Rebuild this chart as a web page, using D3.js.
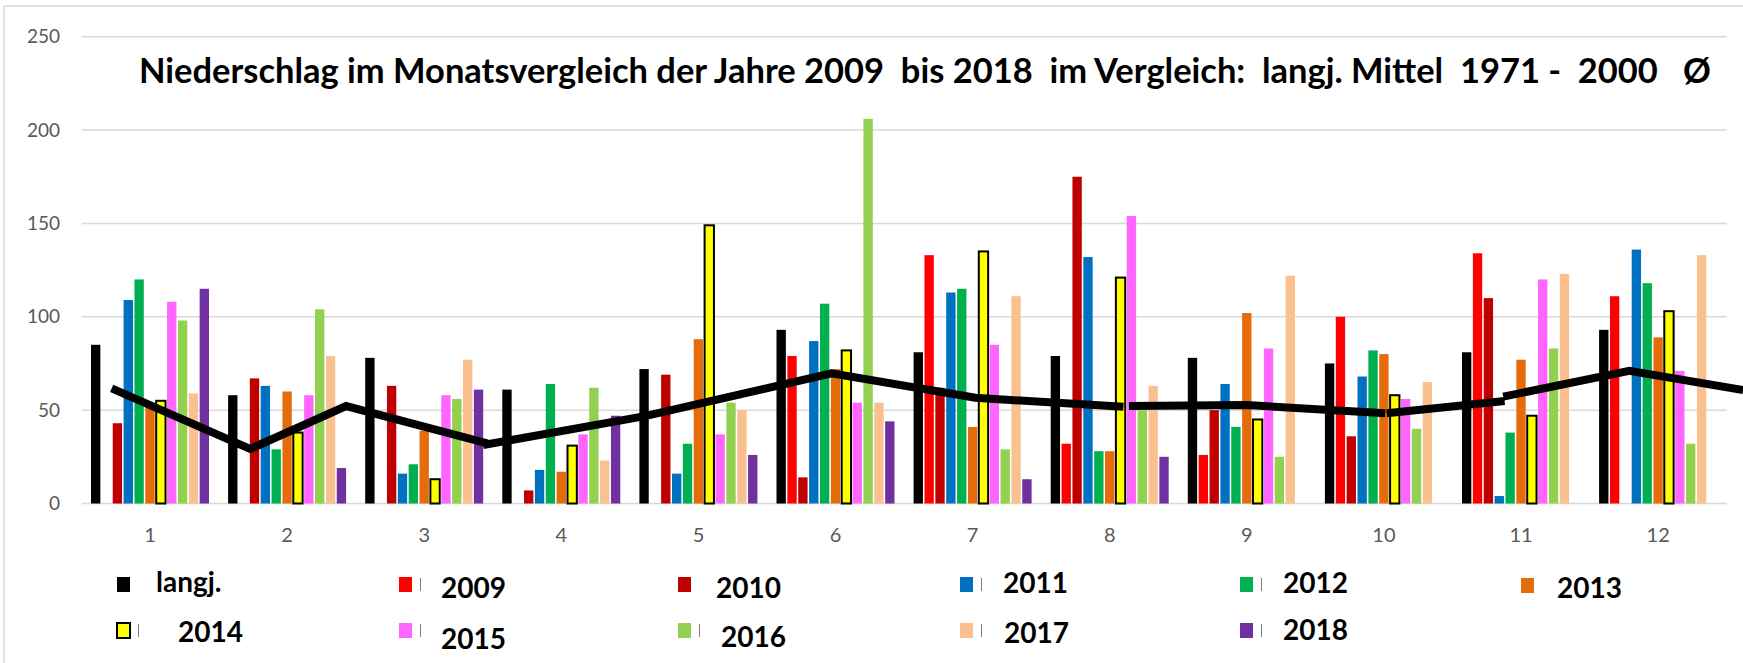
<!DOCTYPE html>
<html>
<head>
<meta charset="utf-8">
<script src="https://cdn.jsdelivr.net/npm/d3@7"></script>
<style>
  body { margin: 0; background: #fff; }
  svg { display: block; font-family: Lato, "Open Sans", sans-serif; }
</style>
</head>
<body>
<div id="chart"></div>
<script>
"use strict";

// months on the x axis
var months = [1, 2, 3, 4, 5, 6, 7, 8, 9, 10, 11, 12];
var series = ["langj.", "2009", "2010", "2011", "2012", "2013", "2014", "2015", "2016", "2017", "2018"];

// precipitation in mm per month
var langj = [85, 58, 78, 61, 72, 93, 81, 79, 78, 75, 81, 93];
var y2009 = [null, null, null, null, null, 79, 133, 32, 26, 100, 134, 111];
var y2010 = [43, 67, 63, 7, 69, 14, 62, 175, 50, 36, 110, null];
var y2011 = [109, 63, 16, 18, 16, 87, 113, 132, 64, 68, 4, 136];
var y2012 = [120, 29, 21, 64, 32, 107, 115, 28, 41, 82, 38, 118];
var y2013 = [52, 60, 39, 17, 88, 72, 41, 28, 102, 80, 77, 89];
var y2014 = [55, 38, 13, 31, 149, 82, 135, 121, 45, 58, 47, 103];
var y2015 = [108, 58, 58, 37, 37, 54, 85, 154, 83, 56, 120, 71];
var y2016 = [98, 104, 56, 62, 54, 206, 29, 50, 25, 40, 83, 32];
var y2017 = [59, 79, 77, 23, 50, 54, 111, 63, 122, 65, 123, 133];
var y2018 = [115, 19, 61, 47, 26, 44, 13, 25, null, null, null, null];

// thick black mean line, drawn in pieces: [month position, mm]
var meanLine = [
	[[0.72, 61.7], [1.73, 29.2], [2.43, 52.2], [3.46, 32.2]],
	[[3.43, 31.3], [4.61, 46.8], [5.97, 69.7], [7.02, 56.6], [8.10, 51.8]],
	[[8.14, 52.2], [9.00, 52.7], [10.01, 48.3]],
	[[10.02, 48.3], [10.88, 54.9]],
	[[10.87, 57.2], [11.79, 71.1], [12.62, 60.8]]
];

var yTicks = [0, 50, 100, 150, 200, 250];

var values = [langj, y2009, y2010, y2011, y2012, y2013, y2014, y2015, y2016, y2017, y2018];
var colors = ["#000000", "#ff0000", "#c00000", "#0070c0", "#00b050", "#e46c0a",
	"#ffff00", "#ff66ff", "#92d050", "#fac090", "#7030a0"];

var W = 1743, H = 663;
var svg = d3.select("#chart").append("svg")
	.attr("width", W)
	.attr("height", H);

svg.append("rect")
	.attr("x", 4).attr("y", 6)
	.attr("width", W + 20).attr("height", H + 20)
	.attr("fill", "none")
	.attr("stroke", "#d9d9d9")
	.attr("stroke-width", 1.5);

var x0 = d3.scaleBand().domain(months).range([81.5, 1726.7]);
var x1 = d3.scaleBand().domain(series)
	.range([9.5, x0.bandwidth() - 9.6])
	.paddingInner(0.14);
var xm = d3.scaleLinear().domain([0.5, 12.5]).range([81.5, 1726.7]);
var y = d3.scaleLinear().domain([0, 250]).range([503.5, 36.7]);

// gridlines
svg.append("g").selectAll("line")
	.data(yTicks)
	.enter().append("line")
	.attr("x1", 81.5).attr("x2", 1726.7)
	.attr("y1", function (d) { return y(d); })
	.attr("y2", function (d) { return y(d); })
	.attr("stroke", "#d9d9d9")
	.attr("stroke-width", 1.5);

svg.append("g").selectAll("text")
	.data(yTicks)
	.enter().append("text")
	.attr("x", 60)
	.attr("y", function (d) { return y(d); })
	.attr("dy", "0.35em")
	.attr("text-anchor", "end")
	.attr("fill", "#595959")
	.attr("font-size", "19px")
	.text(function (d) { return d; });

svg.append("g").selectAll("text")
	.data(months)
	.enter().append("text")
	.attr("x", function (d) { return x0(d) + x0.bandwidth() / 2; })
	.attr("y", 542)
	.attr("text-anchor", "middle")
	.attr("fill", "#595959")
	.attr("font-size", "20px")
	.text(function (d) { return d; });

// bars
var groups = svg.append("g").selectAll("g")
	.data(months)
	.enter().append("g")
	.attr("transform", function (d) { return "translate(" + x0(d) + ",0)"; });

groups.selectAll("rect")
	.data(function (m, i) {
		return series.map(function (s, k) { return { s: s, k: k, v: values[k][i] }; })
			.filter(function (d) { return d.v != null; });
	})
	.enter().append("rect")
	.attr("x", function (d) { return x1(d.s); })
	.attr("width", x1.bandwidth())
	.attr("y", function (d) { return y(d.v); })
	.attr("height", function (d) { return y(0) - y(d.v); })
	.attr("fill", function (d) { return colors[d.k]; })
	.attr("stroke", function (d) { return d.s === "2014" ? "#000" : "none"; })
	.attr("stroke-width", 2);

// mean line
var line = d3.line()
	.x(function (d) { return xm(d[0]); })
	.y(function (d) { return y(d[1]); });

svg.append("g").selectAll("path")
	.data(meanLine)
	.enter().append("path")
	.attr("d", line)
	.attr("fill", "none")
	.attr("stroke", "#000")
	.attr("stroke-width", 8)
	.attr("stroke-linejoin", "miter");

// title, fitted to the width it has in the picture
var title = svg.append("text")
	.attr("x", 139)
	.attr("y", 83)
	.attr("font-weight", "bold")
	.attr("font-size", "30px")
	.attr("fill", "#000")
	.style("white-space", "pre")
	.text("Niederschlag im Monatsvergleich der Jahre 2009  bis 2018  im Vergleich:  langj. Mittel  1971 -  2000   \u00d8");
var tw = title.node().getComputedTextLength();
title.attr("font-size", (30 * 1572 / tw) + "px");

// legend
var legendPos = [
	{ sx: 117, sy: 577, tx: 156, ty: 592, mark: false },
	{ sx: 399, sy: 577, tx: 441, ty: 598, mark: true },
	{ sx: 678, sy: 577, tx: 716, ty: 598, mark: false },
	{ sx: 960, sy: 577, tx: 1003, ty: 593, mark: true },
	{ sx: 1240, sy: 577, tx: 1283, ty: 593, mark: true },
	{ sx: 1521, sy: 578, tx: 1557, ty: 598, mark: false },
	{ sx: 117, sy: 623, tx: 178, ty: 642, mark: true },
	{ sx: 399, sy: 623, tx: 441, ty: 649, mark: true },
	{ sx: 678, sy: 623, tx: 721, ty: 647, mark: true },
	{ sx: 960, sy: 623, tx: 1004, ty: 643, mark: true },
	{ sx: 1240, sy: 623, tx: 1283, ty: 640, mark: true }
];

var legend = svg.append("g").selectAll("g")
	.data(series)
	.enter().append("g");

legend.append("rect")
	.attr("x", function (d, i) { return legendPos[i].sx; })
	.attr("y", function (d, i) { return legendPos[i].sy; })
	.attr("width", 13)
	.attr("height", 15)
	.attr("fill", function (d, i) { return colors[i]; })
	.attr("stroke", function (d) { return d === "2014" ? "#000" : "none"; })
	.attr("stroke-width", 2);

legend.filter(function (d, i) { return legendPos[i].mark; })
	.append("line")
	.attr("x1", function (d) { return legendPos[series.indexOf(d)].sx + 21.5; })
	.attr("x2", function (d) { return legendPos[series.indexOf(d)].sx + 21.5; })
	.attr("y1", function (d) { return legendPos[series.indexOf(d)].sy + 1; })
	.attr("y2", function (d) { return legendPos[series.indexOf(d)].sy + 14; })
	.attr("stroke", "#7f7f7f")
	.attr("stroke-width", 1);

legend.append("text")
	.attr("x", function (d, i) { return legendPos[i].tx; })
	.attr("y", function (d, i) { return legendPos[i].ty; })
	.attr("font-weight", "bold")
	.attr("font-size", "28px")
	.attr("fill", "#000")
	.text(function (d) { return d; });
</script>
</body>
</html>
